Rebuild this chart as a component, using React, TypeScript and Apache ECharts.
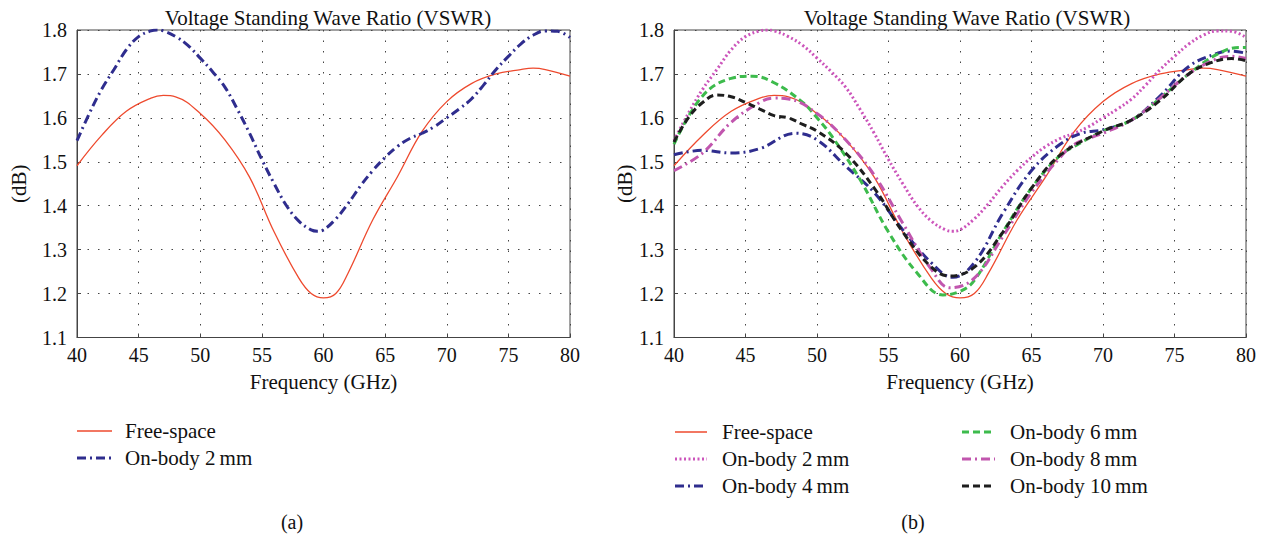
import React, { useEffect, useRef } from "react";
import * as echarts from "echarts";

const X_TICKS_MIN = 40;
const X_TICKS_MAX = 80;
const Y_MIN = 1.1;
const Y_MAX = 1.8;

const FREE_X = [40, 42, 44, 46, 47, 48, 50, 52, 54, 56, 58, 59, 60, 61, 62, 64, 66, 68, 70, 72, 74, 76, 77, 78, 80];
const FREE_Y = [1.491, 1.56, 1.615, 1.645, 1.651, 1.648, 1.61, 1.55, 1.465, 1.34, 1.235, 1.2, 1.19, 1.2, 1.247, 1.368, 1.466, 1.569, 1.637, 1.678, 1.7, 1.71, 1.713, 1.71, 1.695];

const OB2_X = [40, 41, 42, 43, 44, 45, 46, 46.5, 47, 48, 49, 50, 51, 52, 53, 54, 55, 56, 57, 58, 59, 59.5, 60, 61, 62, 63, 64, 65, 66, 67, 68, 69, 70, 71, 72, 73, 74, 75, 76, 77, 78, 79, 80];
const OB2_Y = [1.548, 1.61, 1.665, 1.71, 1.755, 1.785, 1.798, 1.8, 1.798, 1.785, 1.765, 1.736, 1.705, 1.67, 1.62, 1.565, 1.505, 1.45, 1.4, 1.365, 1.345, 1.342, 1.345, 1.37, 1.405, 1.445, 1.48, 1.51, 1.535, 1.553, 1.565, 1.58, 1.6, 1.62, 1.643, 1.675, 1.71, 1.74, 1.768, 1.788, 1.798, 1.797, 1.783];

const OB4_X = [40, 42, 44, 46, 48.5, 50, 52, 54, 56, 58, 59.5, 61, 63, 65, 67, 68.5, 70, 72, 74, 76, 78, 79, 80];
const OB4_Y = [1.516, 1.526, 1.52, 1.53, 1.565, 1.55, 1.49, 1.43, 1.345, 1.27, 1.237, 1.27, 1.383, 1.48, 1.54, 1.565, 1.573, 1.595, 1.65, 1.717, 1.747, 1.752, 1.747];

const OB6_X = [40, 42, 44, 45.5, 47, 49, 50, 51, 53, 55, 57, 58.8, 60, 61, 63, 65, 67, 68, 70, 72, 74, 76, 78, 79.5, 80];
const OB6_Y = [1.54, 1.65, 1.69, 1.695, 1.68, 1.635, 1.6, 1.56, 1.46, 1.34, 1.247, 1.197, 1.205, 1.23, 1.34, 1.44, 1.515, 1.535, 1.57, 1.595, 1.645, 1.7, 1.745, 1.76, 1.76];

const OB8_X = [40, 42, 44, 46, 47, 48, 50, 52, 54, 56, 58, 59.3, 61, 63, 65, 67, 68, 70, 72, 74, 76, 78, 79, 80];
const OB8_Y = [1.48, 1.52, 1.59, 1.635, 1.645, 1.643, 1.61, 1.55, 1.47, 1.36, 1.255, 1.213, 1.235, 1.33, 1.43, 1.51, 1.54, 1.565, 1.595, 1.645, 1.7, 1.735, 1.74, 1.735];

const OB10_X = [40, 41, 42, 43, 44, 45, 46, 47, 48, 49, 50, 52, 54, 56, 58, 59.3, 61, 63, 65, 67, 70, 72, 74, 76, 77.5, 79, 80];
const OB10_Y = [1.545, 1.6, 1.635, 1.652, 1.648, 1.635, 1.62, 1.605, 1.6, 1.585, 1.57, 1.52, 1.44, 1.34, 1.26, 1.24, 1.26, 1.34, 1.44, 1.515, 1.57, 1.595, 1.64, 1.7, 1.725, 1.735, 1.73];

const TITLE = "Voltage Standing Wave Ratio (VSWR)";
const X_NAME = "Frequency (GHz)";
const Y_NAME = "(dB)";
const LEG_FREE = "Free-space";
const LEG_2 = "On-body 2\u2009mm";
const LEG_4 = "On-body 4\u2009mm";
const LEG_6 = "On-body 6\u2009mm";
const LEG_8 = "On-body 8\u2009mm";
const LEG_10 = "On-body 10\u2009mm";

const FONT = "'Liberation Serif', 'DejaVu Serif', serif";
const C_RED = "#ee4a2e";
const C_NAVY = "#2f2d8e";
const C_PINK = "#cc55bb";
const C_GREEN = "#3dbb4c";
const C_MAG = "#c156ae";
const C_BLACK = "#1e1e1e";

const DASHDOT = [9, 4, 2, 4];
const DOT = [2, 2.5];
const DASH = [7, 4];

const zip = (xs: number[], ys: number[]) => xs.map((x, i) => [x, ys[i]]);

export default function App() {
  const ref = useRef<HTMLDivElement>(null);
  useEffect(() => {
    if (!ref.current) return;
    const chart = echarts.init(ref.current, undefined, { renderer: "svg" });
    const grids = [
      { left: 77, top: 30, width: 493, height: 307.5 },
      { left: 674, top: 30, width: 572, height: 307.5 },
    ];
    const yGaps = [48, 38];
    const xAxis = [0, 1].map((i) => ({
      type: "value",
      gridIndex: i,
      min: X_TICKS_MIN,
      max: X_TICKS_MAX,
      interval: 5,
      name: X_NAME,
      nameLocation: "middle",
      nameGap: 34,
      nameTextStyle: { fontFamily: FONT, fontSize: 21, color: "#111" },
      axisLine: { show: true, lineStyle: { color: "#444", width: 1 } },
      axisTick: { show: true, inside: true, length: 4, lineStyle: { color: "#444" } },
      axisLabel: { fontFamily: FONT, fontSize: 20, color: "#111", margin: 7 },
      splitLine: { show: true, lineStyle: { color: "#444", type: [1.5, 9], width: 1 } },
    }));
    const yAxis = [0, 1].map((i) => ({
      type: "value",
      gridIndex: i,
      min: Y_MIN,
      max: Y_MAX,
      interval: 0.1,
      name: Y_NAME,
      nameLocation: "middle",
      nameGap: yGaps[i],
      nameRotate: 90,
      nameTextStyle: { fontFamily: FONT, fontSize: 21, color: "#111" },
      axisLine: { show: true, lineStyle: { color: "#444", width: 1 } },
      axisTick: { show: true, inside: true, length: 4, lineStyle: { color: "#444" } },
      axisLabel: {
        fontFamily: FONT,
        fontSize: 20,
        color: "#111",
        margin: 10,
        formatter: (v: number) => v.toFixed(1),
      },
      splitLine: { show: true, lineStyle: { color: "#444", type: [1.5, 9], width: 1 } },
    }));
    const mk = (name: string, xi: number, xs: number[], ys: number[], color: string, width: number, type: any) => ({
      type: "line",
      name,
      xAxisIndex: xi,
      yAxisIndex: xi,
      data: zip(xs, ys),
      smooth: 0.4,
      showSymbol: false,
      symbol: "none",
      lineStyle: { color, width, type },
    });
    const series = [
      mk(LEG_FREE, 0, FREE_X, FREE_Y, C_RED, 1.3, "solid"),
      mk(LEG_2, 0, OB2_X, OB2_Y, C_NAVY, 3, DASHDOT),
      mk(LEG_FREE, 1, FREE_X, FREE_Y, C_RED, 1.3, "solid"),
      mk(LEG_2, 1, OB2_X, OB2_Y, C_PINK, 3, DOT),
      mk(LEG_4, 1, OB4_X, OB4_Y, C_NAVY, 3, DASHDOT),
      mk(LEG_6, 1, OB6_X, OB6_Y, C_GREEN, 3, DASH),
      mk(LEG_8, 1, OB8_X, OB8_Y, C_MAG, 3, DASHDOT),
      mk(LEG_10, 1, OB10_X, OB10_Y, C_BLACK, 3, DASH),
    ];
    const legItem = (x: number, y: number, color: string, width: number, dash: any, label: string, tx: number, len: number) => [
      {
        type: "line",
        shape: { x1: x, y1: y, x2: x + len, y2: y },
        style: { stroke: color, lineWidth: width, lineDash: dash },
      },
      {
        type: "text",
        x: tx,
        y,
        style: { text: label, fontFamily: FONT, fontSize: 21, fill: "#111", verticalAlign: "middle", align: "left" },
      },
    ];
    const graphic: any[] = [
      ...legItem(77, 431, C_RED, 1.5, null, LEG_FREE, 125, 35),
      ...legItem(77, 458, C_NAVY, 3, DASHDOT, LEG_2, 125, 35),
      ...legItem(675, 432, C_RED, 1.5, null, LEG_FREE, 722, 32),
      ...legItem(675, 459, C_PINK, 3, DOT, LEG_2, 722, 32),
      ...legItem(675, 486, C_NAVY, 3, DASHDOT, LEG_4, 722, 32),
      ...legItem(962, 432, C_GREEN, 3, DASH, LEG_6, 1010, 33),
      ...legItem(962, 459, C_MAG, 3, DASHDOT, LEG_8, 1010, 33),
      ...legItem(962, 486, C_BLACK, 3, DASH, LEG_10, 1010, 33),
      {
        type: "text",
        x: 292,
        y: 522,
        style: { text: "(a)", fontFamily: FONT, fontSize: 20, fill: "#111", align: "center", verticalAlign: "middle" },
      },
      {
        type: "text",
        x: 913,
        y: 522,
        style: { text: "(b)", fontFamily: FONT, fontSize: 20, fill: "#111", align: "center", verticalAlign: "middle" },
      },
    ];
    chart.setOption({
      animation: false,
      backgroundColor: "#ffffff",
      title: [
        { text: TITLE, left: 323, top: 2, textAlign: "center", textStyle: { fontFamily: FONT, fontSize: 21, fontWeight: "normal", color: "#111" } },
        { text: TITLE, left: 962, top: 2, textAlign: "center", textStyle: { fontFamily: FONT, fontSize: 21, fontWeight: "normal", color: "#111" } },
      ],
      grid: grids.map((g) => ({ ...g, show: true, borderColor: "#444", borderWidth: 1, backgroundColor: "transparent" })),
      xAxis,
      yAxis,
      series,
      graphic,
    });
    return () => chart.dispose();
  }, []);
  return <div ref={ref} style={{ width: 1266, height: 541, position: "absolute", left: 0, top: 0 }} />;
}
